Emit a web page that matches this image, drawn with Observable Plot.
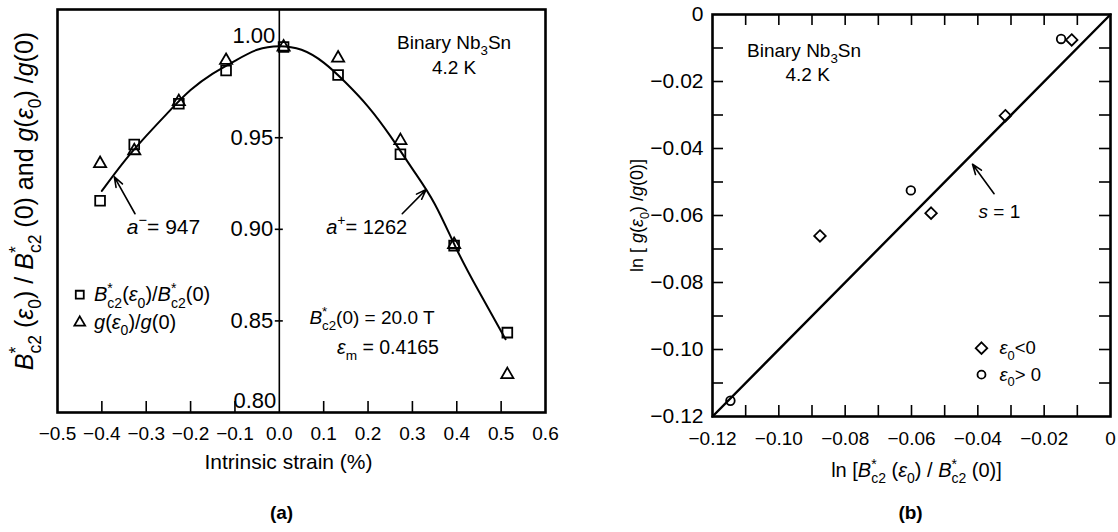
<!DOCTYPE html>
<html><head><meta charset="utf-8">
<script src="https://cdn.jsdelivr.net/npm/d3@7"></script>
<script src="https://cdn.jsdelivr.net/npm/@observablehq/plot@0.6"></script>
<style>
body{margin:0;background:#fff;}
#wrap{position:relative;width:1118px;height:532px;background:#fff;overflow:hidden;}
#wrap svg{position:absolute;top:0;}
</style></head><body><div id="wrap"></div>
<script>
// ---------- Panel (a) data ----------
const strainX   = [-0.404, -0.327, -0.2265, -0.120, 0.0096, 0.1325, 0.273, 0.394, 0.514];
const bc2Ratio  = [0.9156, 0.9463, 0.9685, 0.9867, 0.9995, 0.9842, 0.9410, 0.8911, 0.8436];
const gRatio    = [0.9359, 0.9429, 0.9697, 0.9922, 0.9995, 0.9935, 0.9484, 0.8917, 0.8207];
const fitX      = [-0.40, -0.35, -0.30, -0.25, -0.20, -0.15, -0.10, -0.05, 0.00, 0.05, 0.10, 0.15, 0.20, 0.25, 0.30, 0.35, 0.40, 0.45, 0.51];
const fitY      = [0.921, 0.937, 0.951, 0.964, 0.976, 0.985, 0.992, 0.998, 1.000, 0.998, 0.991, 0.980, 0.967, 0.951, 0.933, 0.914, 0.889, 0.866, 0.840];
const xLabelsA  = [-0.5, -0.4, -0.3, -0.2, -0.1, 0, 0.1, 0.2, 0.3, 0.4, 0.5, 0.6];
const xTicksA   = [-0.4, -0.3, -0.2, -0.1, 0.1, 0.2, 0.3, 0.4, 0.5];
const yTicksA   = [0.95, 0.90, 0.85];
const yTopLabelA = [1.00];
const yBotLabelA = [0.80];
const notesA = [
  {x: 0.394, y: 1.0017, t: "Binary Nb_{3}Sn", s: 19},
  {x: 0.394, y: 0.988, t: "4.2 K", s: 19},
  {x: -0.261, y: 0.9012, t: "~{a}^{−}= 947", s: 21},
  {x: 0.197, y: 0.9012, t: "~{a}^{+}= 1262", s: 20},
  {x: 0.2088, y: 0.8518, t: "~{B}^{*}_{c2}(0) = 20.0 T", s: 19},
  {x: 0.245, y: 0.8354, t: "~{ε}_{m} = 0.4165", s: 19.5}
];
const arrowsA = [
  {x1: -0.3253, y1: 0.9085, x2: -0.3719, y2: 0.9286},
  {x1: 0.2771, y1: 0.9085, x2: 0.3309, y2: 0.9217}
];
const legendA = [
  {x: -0.4498, tx: -0.4177, y: 0.8643, t: "~{B}^{*}_{c2}(~{ε}_{0})/~{B}^{*}_{c2}(0)"},
  {x: -0.4498, tx: -0.4177, y: 0.8491, t: "~{g}(~{ε}_{0})/~{g}(0)"}
];
const yTitleA = "~{B}^{*}_{c2} (~{ε}_{0}) / ~{B}^{*}_{c2} (0) and ~{g}(~{ε}_{0}) /~{g}(0)";
const xTitleA = "Intrinsic strain (%)";

// ---------- Panel (b) data ----------
const lnBc2Neg = [-0.0876, -0.0541, -0.0317, -0.0117];
const lngNeg   = [-0.0661, -0.0593, -0.0302, -0.0076];
const lnBc2Pos = [-0.1146, -0.0602, -0.0149];
const lngPos   = [-0.1153, -0.0525, -0.0073];
const unityX   = [-0.12, 0];
const unityY   = [-0.12, 0];
const labelsB  = [-0.12, -0.10, -0.08, -0.06, -0.04, -0.02, 0];
const ticksB   = [-0.11, -0.10, -0.09, -0.08, -0.07, -0.06, -0.05, -0.04, -0.03, -0.02, -0.01];
const notesB = [
  {x: -0.0924, y: -0.0108, t: "Binary Nb_{3}Sn"},
  {x: -0.0913, y: -0.0180, t: "4.2 K"},
  {x: -0.0335, y: -0.0590, t: "~{s} = 1"}
];
const arrowsB = [{x1: -0.0351, y1: -0.0535, x2: -0.0416, y2: -0.0447}];
const legendB = [
  {x: -0.0389, tx: -0.0335, y: -0.0996, t: "~{ε}_{0}<0"},
  {x: -0.0389, tx: -0.0335, y: -0.1075, t: "~{ε}_{0}> 0"}
];
const yTitleB = "ln [ ~{g}(~{ε}_{0}) /~{g}(0)]";
const xTitleB = "ln [~{B}^{*}_{c2} (~{ε}_{0}) / ~{B}^{*}_{c2} (0)]";

const FONT = "'Liberation Sans', Arial, Helvetica, sans-serif";

// ---------- Panel (a) ----------
const ptsA = strainX.map((x, i) => ({x, b: bc2Ratio[i], g: gRatio[i]}));
const fitA = fitX.map((x, i) => ({x, y: fitY[i]}));
const WA = 560, HA = 532, mLA = 57, mRA = 15, mTA = 9, mBA = 120;
const plotHA = HA - mTA - mBA;

const plotA = Plot.plot({
  width: WA, height: HA,
  marginLeft: mLA, marginRight: mRA, marginTop: mTA, marginBottom: mBA,
  x: {domain: [-0.5, 0.6], label: null},
  y: {domain: [0.80, 1.02], label: null, axis: null},
  style: {fontFamily: FONT, fontSize: "20px", color: "black", background: "white", overflow: "visible"},
  marks: [
    Plot.ruleX([0], {x: d => d, strokeWidth: 1.6}),
    Plot.ruleX(xTicksA, {x: d => d, insetTop: plotHA - 11, strokeWidth: 1.6}),
    Plot.ruleY(yTicksA, {y: d => d, x1: d => 0, x2: d => 0, insetLeft: -4, insetRight: -4, strokeWidth: 1.6}),
    Plot.axisX(xLabelsA, {tickSize: 0, tickPadding: 14, label: null, fontSize: 19}),
    Plot.text(yTicksA, {x: d => 0, y: d => d, text: d => d.toFixed(2), textAnchor: "end", dx: -6, fontSize: 22}),
    Plot.text(yTopLabelA, {x: d => 0, y: d => d, text: d => d.toFixed(2), textAnchor: "end", dx: -4, dy: -10, fontSize: 22}),
    Plot.text(yBotLabelA, {x: d => 0, y: d => d, text: d => d.toFixed(2), textAnchor: "end", dx: -3, dy: -12, fontSize: 22}),
    Plot.line(fitA, {x: "x", y: "y", curve: "natural", strokeWidth: 2}),
    Plot.dot(ptsA, {x: "x", y: "b", symbol: "square", r: 5.5, stroke: "black", strokeWidth: 1.8, fill: "none"}),
    Plot.dot(ptsA, {x: "x", y: "g", symbol: "triangle", r: 4.5, stroke: "black", strokeWidth: 1.8, fill: "none"}),
    Plot.arrow(arrowsA, {x1: "x1", y1: "y1", x2: "x2", y2: "y2", headLength: 10, headAngle: 40, strokeWidth: 1.6}),
    Plot.text(notesA.filter(d => d.s === 19), {x: "x", y: "y", text: "t", textAnchor: "middle", fontSize: 19}),
    Plot.text(notesA.filter(d => d.s === 19.5), {x: "x", y: "y", text: "t", textAnchor: "middle", fontSize: 19.5}),
    Plot.text(notesA.filter(d => d.s === 20), {x: "x", y: "y", text: "t", textAnchor: "middle", fontSize: 20}),
    Plot.text(notesA.filter(d => d.s === 21), {x: "x", y: "y", text: "t", textAnchor: "middle", fontSize: 21}),
    Plot.dot(legendA.slice(0, 1), {x: "x", y: "y", symbol: "square", r: 4.5, stroke: "black", strokeWidth: 1.8, fill: "none"}),
    Plot.dot(legendA.slice(1, 2), {x: "x", y: "y", symbol: "triangle", r: 4, stroke: "black", strokeWidth: 1.8, fill: "none"}),
    Plot.text(legendA, {x: "tx", y: "y", text: "t", textAnchor: "start", fontSize: 20}),
    Plot.text([yTitleA], {frameAnchor: "left", text: d => d, rotate: -90, textAnchor: "middle", lineAnchor: "middle", dx: -33, dy: -10, fontSize: 25}),
    Plot.text([xTitleA], {frameAnchor: "bottom", text: d => d, textAnchor: "middle", lineAnchor: "middle", dx: -13, dy: 50, fontSize: 21}),
    Plot.text(["(a)"], {frameAnchor: "bottom", text: d => d, textAnchor: "middle", lineAnchor: "middle", dx: -20, dy: 100, fontSize: 19, fontWeight: "bold"}),
    Plot.frame({strokeWidth: 2.6})
  ]
});

// ---------- Panel (b) ----------
const negB = lnBc2Neg.map((x, i) => ({x, y: lngNeg[i]}));
const posB = lnBc2Pos.map((x, i) => ({x, y: lngPos[i]}));
const unity = unityX.map((x, i) => ({x, y: unityY[i]}));
const WB = 558, HB = 532, mLB = 152, mRB = 8, mTB = 14, mBB = 116;
const plotHB = HB - mTB - mBB, plotWB = WB - mLB - mRB;
const fmtB = d => d === 0 ? "0" : d3.format(".2f")(d);

const plotB = Plot.plot({
  width: WB, height: HB,
  marginLeft: mLB, marginRight: mRB, marginTop: mTB, marginBottom: mBB,
  x: {domain: [-0.12, 0], label: null},
  y: {domain: [-0.12, 0], label: null},
  style: {fontFamily: FONT, fontSize: "20px", color: "black", background: "white", overflow: "visible"},
  marks: [
    Plot.ruleX(ticksB, {x: d => d, insetTop: plotHB - 11, strokeWidth: 1.6}),
    Plot.ruleX(ticksB, {x: d => d, insetBottom: plotHB - 11, strokeWidth: 1.6}),
    Plot.ruleY(ticksB, {y: d => d, insetRight: plotWB - 11, strokeWidth: 1.6}),
    Plot.ruleY(ticksB, {y: d => d, insetLeft: plotWB - 11, strokeWidth: 1.6}),
    Plot.axisX(labelsB, {tickSize: 0, tickPadding: 15, tickFormat: fmtB, label: null, fontSize: 19}),
    Plot.axisY(labelsB, {tickSize: 0, tickPadding: 9, tickFormat: fmtB, label: null, fontSize: 21}),
    Plot.line(unity, {x: "x", y: "y", strokeWidth: 2.4}),
    Plot.dot(negB, {x: "x", y: "y", symbol: "diamond2", r: 5.2, stroke: "black", strokeWidth: 1.8, fill: "none"}),
    Plot.dot(posB, {x: "x", y: "y", symbol: "circle", r: 4.3, stroke: "black", strokeWidth: 1.8, fill: "none"}),
    Plot.arrow(arrowsB, {x1: "x1", y1: "y1", x2: "x2", y2: "y2", headLength: 10, headAngle: 40, strokeWidth: 1.6}),
    Plot.text(notesB, {x: "x", y: "y", text: "t", textAnchor: "middle", fontSize: 19}),
    Plot.dot(legendB.slice(0, 1), {x: "x", y: "y", symbol: "diamond2", r: 5.2, stroke: "black", strokeWidth: 1.8, fill: "none"}),
    Plot.dot(legendB.slice(1, 2), {x: "x", y: "y", symbol: "circle", r: 4, stroke: "black", strokeWidth: 1.8, fill: "none"}),
    Plot.text(legendB, {x: "tx", y: "y", text: "t", textAnchor: "start", fontSize: 18.5}),
    Plot.text([yTitleB], {frameAnchor: "left", text: d => d, rotate: -90, textAnchor: "middle", lineAnchor: "middle", dx: -75, fontSize: 18}),
    Plot.text([xTitleB], {frameAnchor: "bottom", text: d => d, textAnchor: "middle", lineAnchor: "middle", dx: 5, dy: 54, fontSize: 20}),
    Plot.text(["(b)"], {frameAnchor: "bottom", text: d => d, textAnchor: "middle", lineAnchor: "middle", dx: -1, dy: 96, fontSize: 19, fontWeight: "bold"}),
    Plot.frame({strokeWidth: 2.6})
  ]
});

const wrap = document.getElementById("wrap");
plotA.style.left = "0px";
plotB.style.left = "560px";
wrap.appendChild(plotA);
wrap.appendChild(plotB);

// rich text: ~{..} italic, _{..} subscript, ^{..} superscript
function richify(svg) {
  const ns = "http://www.w3.org/2000/svg";
  svg.querySelectorAll("text").forEach(t => {
    const s = t.textContent;
    if (!/[_^~]\{/.test(s)) return;
    const fs = parseFloat(getComputedStyle(t).fontSize) || 20;
    const re = /([_^~])\{([^}]*)\}/g;
    const parts = []; let last = 0, m;
    while ((m = re.exec(s))) {
      if (m.index > last) parts.push(["n", s.slice(last, m.index)]);
      parts.push([m[1], m[2]]);
      last = re.lastIndex;
    }
    if (last < s.length) parts.push(["n", s.slice(last)]);
    while (t.firstChild) t.removeChild(t.firstChild);
    let cur = 0;
    parts.forEach(([k, v], i) => {
      const ts = document.createElementNS(ns, "tspan");
      let target = 0, size = fs;
      if (k === "_") { target = 0.32 * fs; size = 0.7 * fs; }
      if (k === "^") { target = -0.42 * fs; size = 0.7 * fs; }
      if (k === "~") ts.setAttribute("font-style", "italic");
      if (target !== cur) ts.setAttribute("dy", (target - cur).toFixed(2));
      cur = target;
      if (size !== fs) ts.setAttribute("font-size", size.toFixed(2));
      if (k === "_" && i > 0 && parts[i - 1][0] === "^" && parts[i - 1][1] === "*") ts.setAttribute("dx", (-0.39 * size).toFixed(2));
      ts.textContent = v;
      t.appendChild(ts);
    });
  });
}
richify(plotA);
richify(plotB);
</script>
</body></html>
